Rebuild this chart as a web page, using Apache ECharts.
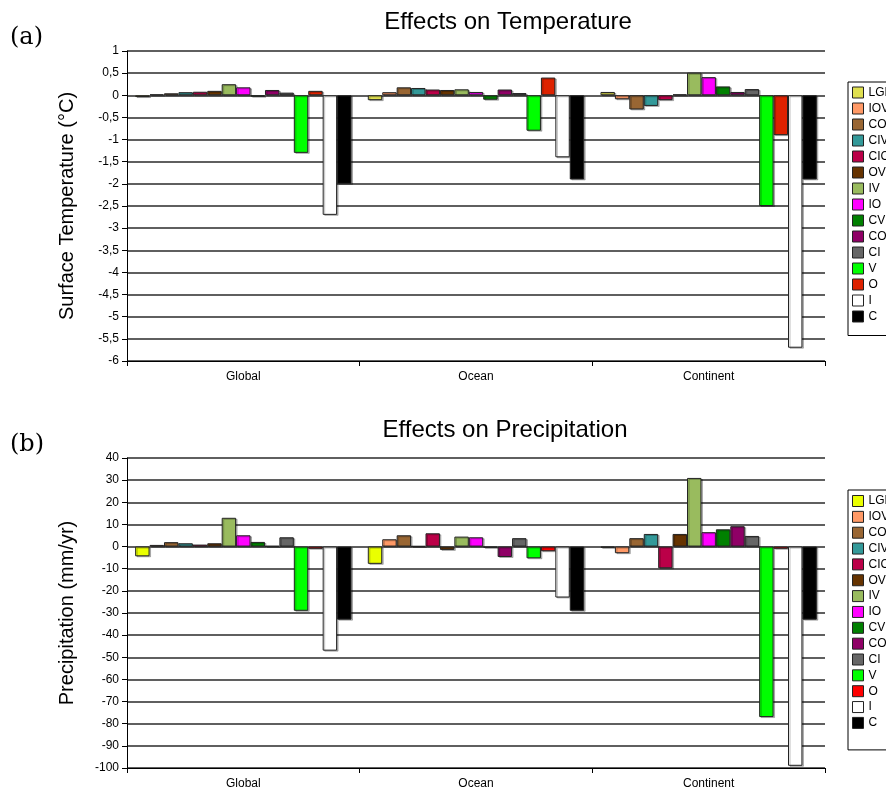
<!DOCTYPE html>
<html>
<head>
<meta charset="utf-8">
<script src="https://cdn.jsdelivr.net/npm/echarts@6/dist/echarts.min.js"></script>
<style>
html,body{margin:0;padding:0;background:#fff;}
#chart{width:886px;height:792px;}
</style>
</head>
<body>
<div id="chart"></div>
<script>
const categories = ['Global', 'Ocean', 'Continent'];
const seriesNames = ['LGM','IOV','COV','CIV','CICV','OV','IV','IO','CV','CO','CI','V','O','I','C'];

// Surface temperature (°C), one value per experiment, in seriesNames order
const tempGlobal    = [-0.04, 0.02, 0.045, 0.07, 0.08, 0.1, 0.25, 0.18, -0.03, 0.12, 0.06, -1.3, 0.1, -2.7, -2.0];
const tempOcean     = [-0.11, 0.07, 0.18, 0.165, 0.13, 0.12, 0.135, 0.075, -0.1, 0.13, 0.05, -0.8, 0.4, -1.4, -1.9];
const tempContinent = [0.075, -0.09, -0.32, -0.24, -0.11, 0.02, 0.51, 0.41, 0.2, 0.075, 0.14, -2.5, -0.9, -5.7, -1.9];

// Precipitation (mm/yr)
const precGlobal    = [-4.4, 0.75, 2.0, 1.5, 0.9, 1.5, 13, 5.1, 2.1, 0.3, 4.2, -29, -1.0, -47, -33];
const precOcean     = [-7.8, 3.3, 5.1, 0.2, 6.0, -1.5, 4.5, 4.2, -0.5, -4.7, 3.8, -5.3, -2.1, -23, -29];
const precContinent = [-0.5, -3, 3.8, 5.7, -9.8, 5.7, 31, 6.5, 7.8, 9.2, 4.8, -77, -1.0, -99, -33];

const colorsTemp = ['#e0e050','#ff9966','#996633','#339999','#bb0048','#663300','#99bb5e','#ff00ff','#008000','#8f0066','#666666','#00ff00','#dd2200','#ffffff','#000000'];
const colorsPrec = ['#eaff00','#ff9966','#996633','#339999','#bb0048','#663300','#99bb5e','#ff00ff','#008000','#8f0066','#666666','#00ff00','#ff0000','#ffffff','#000000'];

const FONT = '"Liberation Sans", Arial, sans-serif';

function makeSeries(idx, vals, colors) {
  return seriesNames.map((name, i) => ({
    name: name,
    type: 'bar',
    xAxisIndex: idx,
    yAxisIndex: idx,
    barGap: '0%',
    barCategoryGap: '7%',
    data: vals.map(arr => arr[i]),
    itemStyle: {
      color: colors[i],
      borderColor: '#222',
      borderWidth: 1,
      shadowColor: 'rgba(0,0,0,0.25)',
      shadowOffsetX: 1.5,
      shadowOffsetY: 1
    },
    emphasis: { disabled: true },
    animation: false
  }));
}

function makeLegend(top, colors, pad, gap) {
  return {
    orient: 'vertical',
    left: 848,
    top: top,
    itemWidth: 11,
    itemHeight: 11,
    itemGap: gap,
    padding: pad,
    borderColor: '#000',
    borderWidth: 1,
    backgroundColor: '#fff',
    selectedMode: false,
    icon: 'rect',
    itemStyle: { borderColor: '#222', borderWidth: 1 },
    textStyle: { fontFamily: FONT, fontSize: 12, color: '#000', lineHeight: 11 },
    data: seriesNames.map((n, i) => ({ name: n, itemStyle: { color: colors[i], borderColor: '#222', borderWidth: 1 } }))
  };
}

function yAxis(idx, min, max, interval, name) {
  return {
    type: 'value',
    gridIndex: idx,
    min: min, max: max, interval: interval,
    name: name,
    nameLocation: 'middle',
    nameGap: 50,
    nameRotate: 90,
    nameTextStyle: { fontFamily: FONT, fontSize: 20, color: '#000' },
    axisLine: { show: true, lineStyle: { color: '#000', width: 1 } },
    axisTick: { show: true, inside: false, length: 5, lineStyle: { color: '#000' } },
    axisLabel: {
      fontFamily: FONT, fontSize: 12, color: '#000', margin: 8,
      formatter: v => String(v).replace('.', ',')
    },
    splitLine: { show: true, lineStyle: { color: '#2a2a2a', width: 1.5 } }
  };
}

function xAxis(idx) {
  return {
    type: 'category',
    gridIndex: idx,
    data: categories,
    axisLine: { show: true, onZero: false, lineStyle: { color: '#000', width: 1 } },
    axisTick: { show: true, length: 5, lineStyle: { color: '#000' } },
    axisLabel: { fontFamily: FONT, fontSize: 12, color: '#000', margin: 10 },
    splitLine: { show: false }
  };
}

const option = {
  animation: false,
  backgroundColor: '#fff',
  grid: [
    { left: 127, top: 51, right: 61, height: 310 },
    { left: 127, top: 458, right: 61, height: 310 }
  ],
  legend: [
    makeLegend(82, colorsTemp, [4.5, 40, 13, 4], 4.0),
    makeLegend(490, colorsPrec, [5, 40, 21, 4], 3.85)
  ],
  xAxis: [xAxis(0), xAxis(1)],
  yAxis: [
    yAxis(0, -6, 1, 0.5, 'Surface Temperature (°C)'),
    yAxis(1, -100, 40, 10, 'Precipitation (mm/yr)')
  ],
  graphic: [
    { type: 'text', left: 10, top: 26, style: { text: '(a)', font: '24px "DejaVu Serif", "Liberation Serif", serif', fill: '#000' } },
    { type: 'text', left: 10, top: 433, style: { text: '(b)', font: '24px "DejaVu Serif", "Liberation Serif", serif', fill: '#000' } },
    { type: 'text', x: 508, y: 22, style: { text: 'Effects on Temperature', font: '24px "Liberation Sans", Arial, sans-serif', fill: '#000', textAlign: 'center', textVerticalAlign: 'middle' } },
    { type: 'text', x: 505, y: 430, style: { text: 'Effects on Precipitation', font: '24px "Liberation Sans", Arial, sans-serif', fill: '#000', textAlign: 'center', textVerticalAlign: 'middle' } }
  ],
  series: [].concat(
    makeSeries(0, [tempGlobal, tempOcean, tempContinent], colorsTemp),
    makeSeries(1, [precGlobal, precOcean, precContinent], colorsPrec)
  )
};

const chart = echarts.init(document.getElementById('chart'), null, { renderer: 'canvas' });
chart.setOption(option);
</script>
</body>
</html>
